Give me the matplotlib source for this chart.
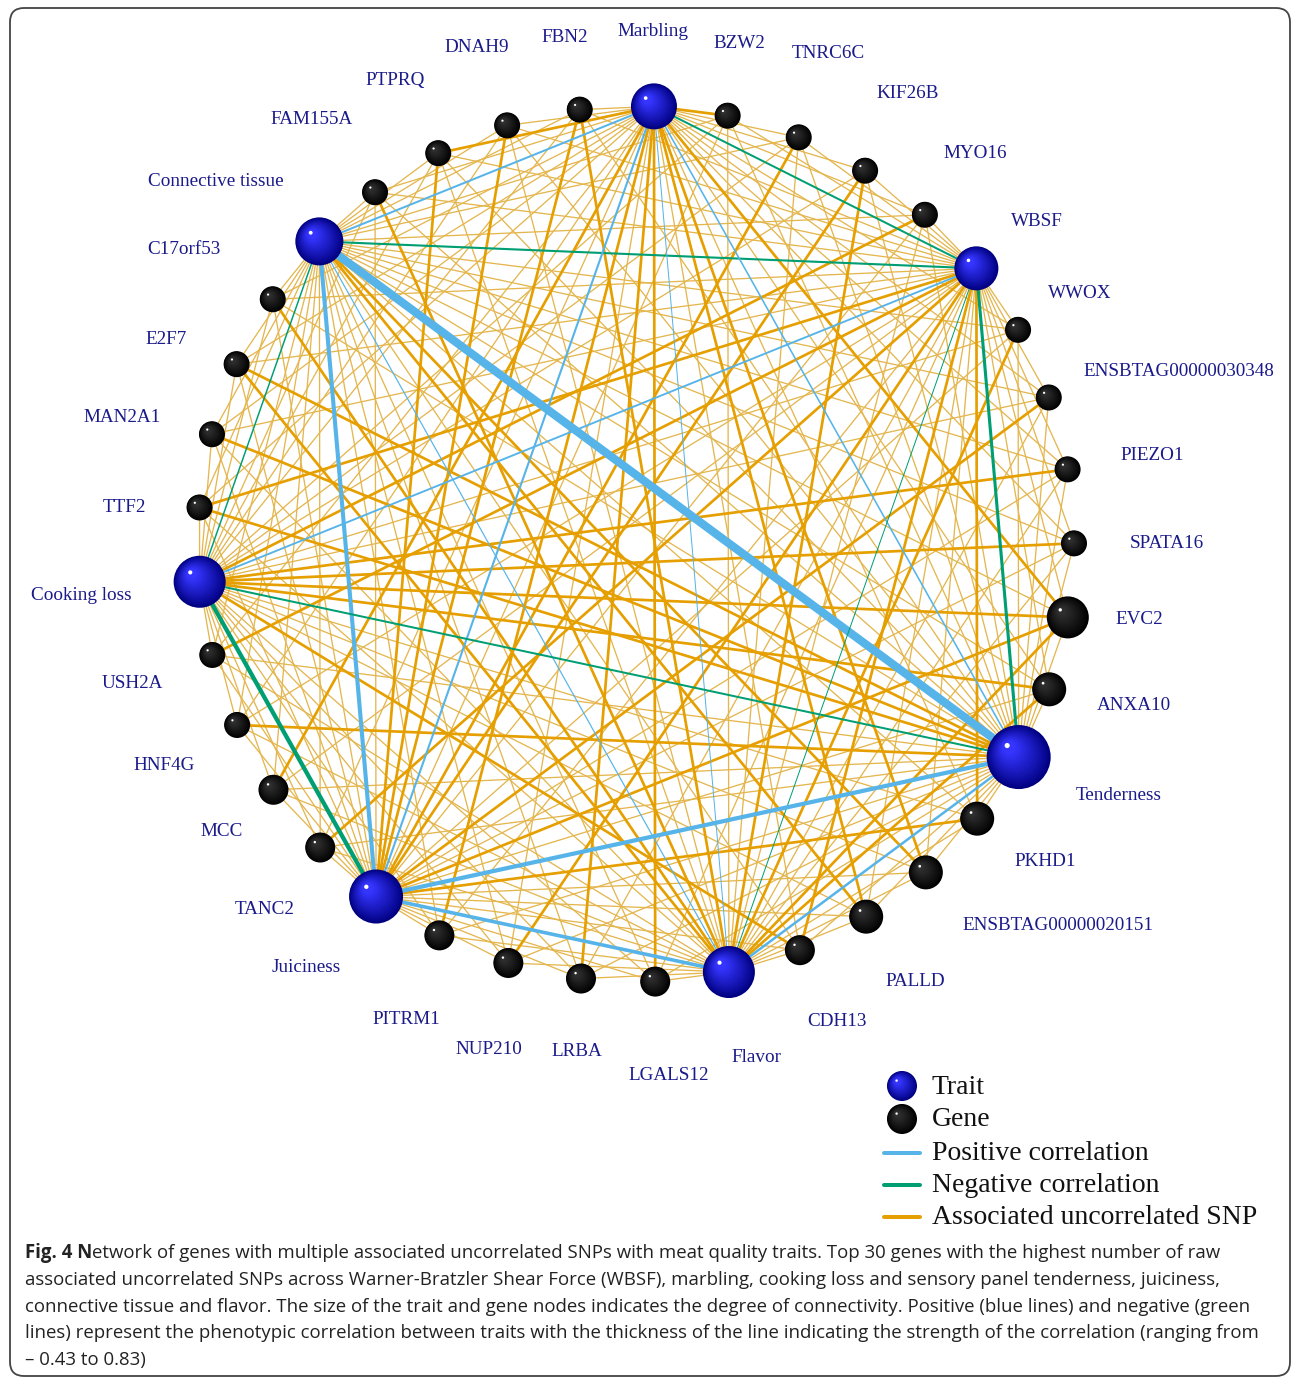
import numpy as np
import matplotlib
matplotlib.use("Agg")
import matplotlib.pyplot as plt
from matplotlib.patches import Circle, FancyBboxPatch
from matplotlib.collections import LineCollection
from matplotlib import font_manager

# nodes in clockwise order around the ring, starting at the top
ring_order = ["Marbling", "BZW2", "TNRC6C", "KIF26B", "MYO16", "WBSF", "WWOX",
              "ENSBTAG00000030348", "PIEZO1", "SPATA16", "EVC2", "ANXA10",
              "Tenderness", "PKHD1", "ENSBTAG00000020151", "PALLD", "CDH13",
              "Flavor", "LGALS12", "LRBA", "NUP210", "PITRM1", "Juiciness",
              "TANC2", "MCC", "HNF4G", "USH2A", "Cooking loss", "TTF2", "MAN2A1",
              "E2F7", "C17orf53", "Connective tissue", "FAM155A", "PTPRQ",
              "DNAH9", "FBN2"]

traits = ["Marbling", "WBSF", "Tenderness", "Flavor", "Juiciness",
          "Cooking loss", "Connective tissue"]

genes = ["BZW2", "TNRC6C", "KIF26B", "MYO16", "WWOX", "ENSBTAG00000030348",
         "PIEZO1", "SPATA16", "EVC2", "ANXA10", "PKHD1", "ENSBTAG00000020151",
         "PALLD", "CDH13", "LGALS12", "LRBA", "NUP210", "PITRM1", "TANC2", "MCC",
         "HNF4G", "USH2A", "TTF2", "MAN2A1", "E2F7", "C17orf53", "FAM155A",
         "PTPRQ", "DNAH9", "FBN2"]

# SNP links gene -> trait (columns follow `traits`), 1 = single, 2 = multiple
snp_links = [
    [2, 1, 1, 1, 1, 1, 1],
    [1, 1, 1, 1, 2, 1, 1],
    [1, 1, 1, 2, 2, 1, 0],
    [1, 1, 1, 1, 1, 2, 1],
    [1, 1, 1, 2, 1, 1, 1],
    [1, 1, 1, 1, 2, 1, 1],
    [1, 1, 1, 1, 1, 2, 1],
    [1, 1, 1, 1, 1, 2, 1],
    [2, 1, 1, 2, 2, 2, 1],
    [1, 1, 1, 2, 1, 2, 1],
    [1, 2, 1, 1, 2, 1, 1],
    [2, 1, 1, 1, 1, 1, 2],
    [2, 1, 1, 1, 1, 1, 2],
    [1, 2, 1, 1, 1, 2, 1],
    [2, 1, 1, 1, 1, 1, 1],
    [2, 1, 1, 1, 1, 1, 1],
    [1, 2, 1, 1, 1, 1, 1],
    [2, 1, 1, 1, 1, 1, 1],
    [1, 2, 1, 1, 1, 1, 1],
    [2, 1, 1, 1, 1, 1, 1],
    [1, 1, 2, 1, 1, 1, 1],
    [1, 2, 1, 1, 1, 1, 1],
    [1, 2, 2, 1, 1, 1, 1],
    [1, 1, 2, 1, 1, 1, 1],
    [1, 1, 2, 2, 1, 1, 1],
    [1, 1, 1, 2, 1, 1, 1],
    [1, 1, 1, 2, 1, 1, 1],
    [2, 1, 1, 1, 2, 1, 1],
    [1, 1, 1, 1, 2, 1, 1],
    [1, 1, 1, 2, 2, 1, 1],
]

# phenotypic correlations between traits
corr_pairs = [("Connective tissue", "Tenderness"), ("Connective tissue", "Juiciness"),
              ("Connective tissue", "Marbling"), ("Connective tissue", "Flavor"),
              ("Connective tissue", "WBSF"), ("Connective tissue", "Cooking loss"),
              ("Marbling", "WBSF"), ("Marbling", "Tenderness"), ("Marbling", "Flavor"),
              ("Marbling", "Juiciness"), ("WBSF", "Cooking loss"), ("WBSF", "Tenderness"),
              ("WBSF", "Flavor"), ("Cooking loss", "Tenderness"),
              ("Cooking loss", "Juiciness"), ("Tenderness", "Juiciness"),
              ("Tenderness", "Flavor"), ("Juiciness", "Flavor")]
corr_values = [0.83, 0.41, 0.20, 0.12, -0.21, -0.15, -0.20, 0.16, 0.10, 0.21,
               0.19, -0.31, -0.10, -0.20, -0.43, 0.42, 0.25, 0.36]

# node radii (px)
node_radius = {"Marbling": 23, "WBSF": 22, "Tenderness": 32, "Flavor": 26,
               "Juiciness": 27, "Cooking loss": 26, "Connective tissue": 24,
               "EVC2": 21, "ANXA10": 17, "PKHD1": 17, "ENSBTAG00000020151": 17,
               "PALLD": 17, "CDH13": 15, "LGALS12": 15, "LRBA": 15, "NUP210": 15,
               "PITRM1": 15, "TANC2": 15, "MCC": 15}

# label anchor positions (px)
label_xy = {"Marbling": (653, 32), "BZW2": (739, 44), "TNRC6C": (828, 54),
            "KIF26B": (908, 94), "MYO16": (975, 153), "WBSF": (1037, 222),
            "WWOX": (1080, 294), "ENSBTAG00000030348": (1179, 371),
            "PIEZO1": (1152, 455), "SPATA16": (1167, 544), "EVC2": (1139, 619),
            "ANXA10": (1134, 705), "Tenderness": (1119, 796), "PKHD1": (1045, 861),
            "ENSBTAG00000020151": (1058, 926), "PALLD": (915, 981),
            "CDH13": (837, 1022), "Flavor": (756, 1057), "LGALS12": (669, 1076),
            "LRBA": (577, 1052), "NUP210": (489, 1050), "PITRM1": (406, 1020),
            "Juiciness": (306, 968), "TANC2": (265, 910), "MCC": (222, 831),
            "HNF4G": (164, 766), "USH2A": (132, 683), "Cooking loss": (81, 595),
            "TTF2": (124, 508), "MAN2A1": (122, 418), "E2F7": (166, 339),
            "C17orf53": (184, 250), "Connective tissue": (216, 181),
            "FAM155A": (312, 120), "PTPRQ": (395, 80), "DNAH9": (477, 48),
            "FBN2": (565, 37)}

W, H = 1292, 1379
fig = plt.figure(figsize=(W / 100, H / 100), dpi=100)
ax = fig.add_axes([0, 0, 1, 1])
ax.set_xlim(0, W)
ax.set_ylim(H, 0)
ax.axis("off")
PX = 0.72  # points per pixel

serif = "Liberation Serif"
avail = {f.name for f in font_manager.fontManager.ttflist}
cap_font = "Liberation Sans Narrow" if "Liberation Sans Narrow" in avail else "Open Sans"

# circular layout
cx, cy, R = 636, 544, 438
n = len(ring_order)
pos = {}
for i, name in enumerate(ring_order):
    a = np.radians(2.35 + i * 360.0 / n)
    pos[name] = (cx + R * np.sin(a), cy - R * np.cos(a))

# SNP edges
thin, thick = [], []
for g, row in zip(genes, snp_links):
    for t, v in zip(traits, row):
        if v == 1:
            thin.append([pos[g], pos[t]])
        elif v >= 2:
            thick.append([pos[g], pos[t]])
ax.add_collection(LineCollection(thin, colors="#e4b64e", linewidths=1.3 * PX, zorder=1))
ax.add_collection(LineCollection(thick, colors="#e69f00", linewidths=2.7 * PX, zorder=2))

# trait correlation edges
for (a, b), r in zip(corr_pairs, corr_values):
    col = "#56b4e9" if r > 0 else "#009e73"
    ax.plot([pos[a][0], pos[b][0]], [pos[a][1], pos[b][1]], color=col,
            lw=max(abs(r) * 10, 1.0) * PX, solid_capstyle="butt", zorder=3)


def blend(c1, c2, t):
    c1 = np.array(matplotlib.colors.to_rgb(c1))
    c2 = np.array(matplotlib.colors.to_rgb(c2))
    return tuple(c1 + (c2 - c1) * t)


def sphere(x, y, r, dark, light, z=5):
    steps = 16
    for k in range(steps):
        t = k / (steps - 1)
        rr = r * (1 - 0.8 * t)
        ax.add_patch(Circle((x - 0.3 * r * t, y - 0.3 * r * t), rr,
                            color=blend(dark, light, t ** 0.9), lw=0, zorder=z))
    ax.add_patch(Circle((x - 0.36 * r, y - 0.36 * r), max(0.08 * r, 1.1),
                        color="white", lw=0, zorder=z))


TRAIT_DARK, TRAIT_LIGHT = "#000080", "#3535ff"
GENE_DARK, GENE_LIGHT = "#000000", "#2e2e2e"

for name in ring_order:
    x, y = pos[name]
    if name in traits:
        sphere(x, y, node_radius.get(name, 24), TRAIT_DARK, TRAIT_LIGHT)
    else:
        sphere(x, y, node_radius.get(name, 13), GENE_DARK, GENE_LIGHT)
    lx, ly = label_xy[name]
    ax.text(lx, ly, name, ha="center", va="center", fontsize=13.8, color="#1a1a8a",
            family=serif, zorder=6)

# legend
leg_x = 902
sphere(leg_x, 1086, 15, TRAIT_DARK, TRAIT_LIGHT)
sphere(leg_x, 1119, 15, GENE_DARK, GENE_LIGHT)
for yy, col in zip([1153, 1185, 1217], ["#56b4e9", "#009e73", "#e69f00"]):
    ax.plot([884, 920], [yy, yy], color=col, lw=4 * PX, solid_capstyle="round")
leg_text = ["Trait", "Gene", "Positive correlation", "Negative correlation",
            "Associated uncorrelated SNP"]
for yy, s in zip([1088, 1120, 1153, 1185, 1217], leg_text):
    ax.text(932, yy, s, ha="left", va="center", fontsize=20, family=serif,
            color="#111111")

# frame
ax.add_patch(FancyBboxPatch((10, 8), 1280, 1368, boxstyle="round,pad=0,rounding_size=14",
                            fc="none", ec="#444444", lw=1.3, zorder=0))

# caption
cap_lines = [
    "etwork of genes with multiple associated uncorrelated SNPs with meat quality traits. Top 30 genes with the highest number of raw",
    "associated uncorrelated SNPs across Warner-Bratzler Shear Force (WBSF), marbling, cooking loss and sensory panel tenderness, juiciness,",
    "connective tissue and flavor. The size of the trait and gene nodes indicates the degree of connectivity. Positive (blue lines) and negative (green",
    "lines) represent the phenotypic correlation between traits with the thickness of the line indicating the strength of the correlation (ranging from",
    "\u2013 0.43 to 0.83)",
]
renderer = fig.canvas.get_renderer()
probe = ax.text(0, 0, cap_lines[2], fontsize=14, family=cap_font)
wpx = probe.get_window_extent(renderer).width
probe.remove()
cap_fs = 14 * 1230 / wpx

x0 = 25
head = ax.text(x0, 1253, "Fig. 4 N", ha="left", va="center", fontsize=cap_fs,
               family=cap_font, weight="bold", color="#222222")
hw = head.get_window_extent(renderer).width
ax.text(x0 + hw, 1253, cap_lines[0], ha="left", va="center", fontsize=cap_fs,
        family=cap_font, color="#222222")
for k, s in enumerate(cap_lines[1:], start=1):
    ax.text(x0, 1253 + 26.8 * k, s, ha="left", va="center", fontsize=cap_fs,
            family=cap_font, color="#222222")

fig.savefig("out.png", dpi=100)
